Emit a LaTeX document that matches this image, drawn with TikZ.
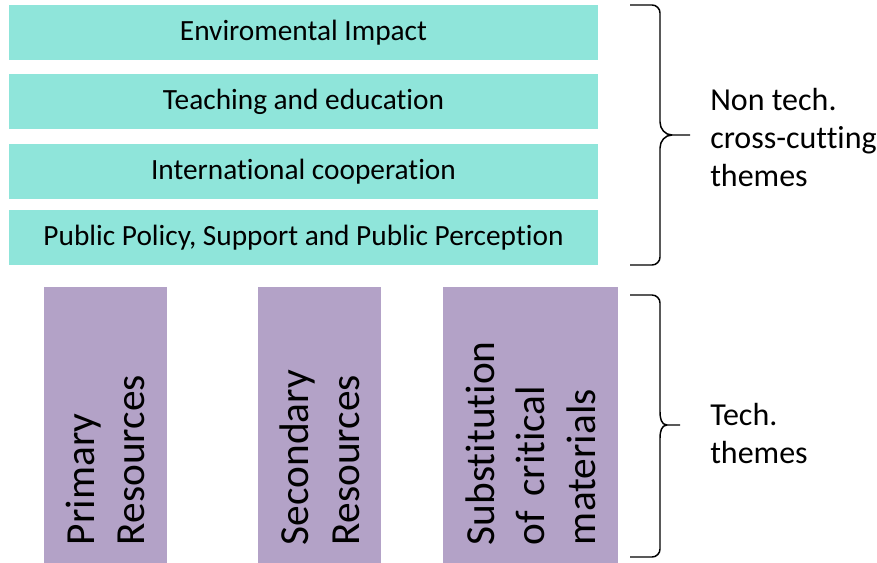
\documentclass[tikz,border=0pt]{standalone}
\usepackage{fontspec}
\setmainfont[Ligatures={NoCommon}]{Carlito}
\definecolor{themeteal}{RGB}{143,229,218}
\definecolor{themepurple}{RGB}{179,162,199}
\tikzset{
    nontech/.style={fill=themeteal, minimum width=441.75pt, minimum height=41.25pt, inner sep=0pt,
        font=\fontsize{22}{26}\selectfont},
    tech/.style={fill=themepurple, rotate=90, minimum width=207pt, text width=180pt, inner xsep=13.5pt,
        align=left, font=\fontsize{31}{38}\selectfont},
    themelabel/.style={anchor=west, align=left, inner sep=0pt, font=\fontsize{24}{28.5}\selectfont}
}
\begin{document}
\begin{tikzpicture}[x=0.75pt, y=-0.75pt]
        \useasboundingbox (0,0) rectangle (877,563);
        \node[nontech] (env)    at (303.5,32.5)  {Enviromental Impact};
        \node[nontech] (teach)  at (303.5,101.5) {Teaching and education};
        \node[nontech] (intl)   at (303.5,171.5) {International cooperation};
        \node[nontech] (policy) at (303.5,237.5) {Public Policy, Support and Public Perception};
        \node[tech, minimum height=92.25pt]  (primary)   at (105.5,425)  {Primary\\Resources};
        \node[tech, minimum height=92.25pt]  (secondary) at (319.5,425)  {Secondary\\Resources};
        \node[tech, minimum height=131.25pt] (subst)     at (530.5,425)  {Substitution\\of critical\\materials};
        \node[themelabel] (nontechlabel) at (710,138) {Non tech.\\cross-cutting\\themes};
        \node[themelabel] (techlabel)    at (710,434) {Tech.\\themes};
        \draw[line width=1.1pt] (630,5) -- (652,5) to[out=0,in=90] (660,13) -- (660,122)
            to[out=-90,in=180] (672,135) -- (690,135);
        \draw[line width=1.1pt] (672,135) to[out=180,in=90] (660,148) -- (660,257)
            to[out=-90,in=0] (652,265) -- (630,265);
        \draw[line width=1.1pt] (630,295) -- (652,295) to[out=0,in=90] (660,303) -- (660,412)
            to[out=-90,in=180] (667,425) -- (680,425);
        \draw[line width=1.1pt] (667,425) to[out=180,in=90] (660,438) -- (660,549)
            to[out=-90,in=0] (652,557) -- (630,557);
    \end{tikzpicture}
\end{document}
